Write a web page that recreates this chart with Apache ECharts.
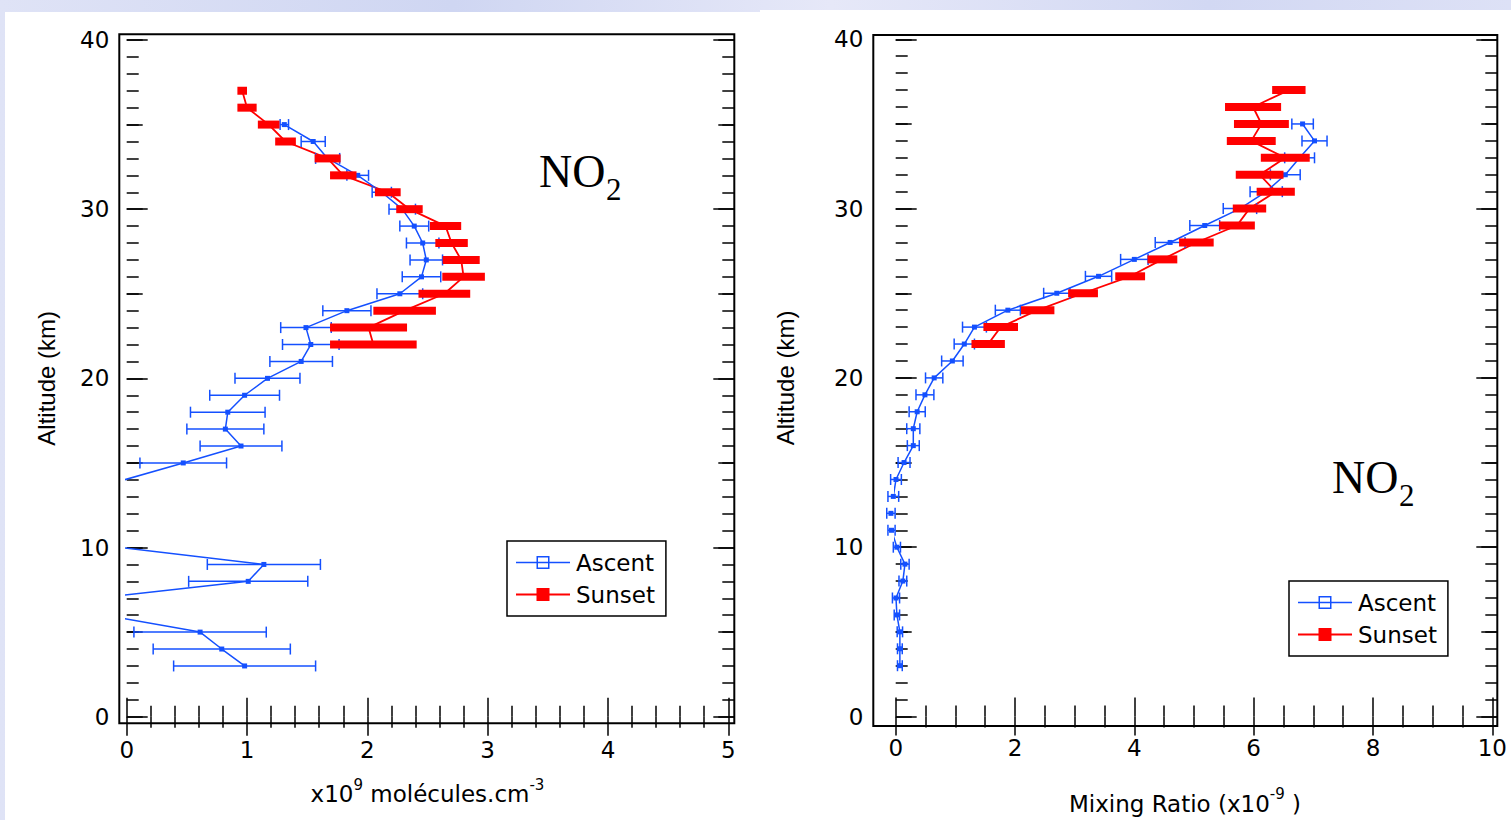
<!DOCTYPE html>
<html><head><meta charset="utf-8">
<script src="https://cdn.jsdelivr.net/npm/echarts@6/dist/echarts.min.js"></script>
<style>
html,body{margin:0;padding:0;}
body{width:1511px;height:820px;overflow:hidden;position:relative;
background:linear-gradient(90deg,#dfe3f6 0%,#cfd6f2 30%,#e6e8f8 55%,#d2d8f3 80%,#dde1f6 100%);}
.panel{position:absolute;background:#fff;}
#chart{position:absolute;left:0;top:0;width:1511px;height:820px;}
</style></head><body>
<div class="panel" style="left:5px;top:12px;width:755px;height:808px"></div>
<div class="panel" style="left:760px;top:10px;width:751px;height:810px"></div>
<div id="chart"></div>
<script>
// ---------- data ----------
const ascentAlt = [3,4,5,6,7,8,9,10,11,12,13,14,15,16,17,18,19,20,21,22,23,24,25,26,27,28,29,30,31,32,33,34,35];
const sunsetAlt = [22,23,24,25,26,27,28,29,30,31,32,33,34,35,36,37];

// Left panel: number density (x10^9 molecules/cm3)
const leftAscentVal = [0.98,0.79,0.61,-0.18,-0.25,1.01,1.14,-0.05,null,null,null,-0.02,0.47,0.95,0.82,0.84,0.98,1.17,1.45,1.53,1.49,1.83,2.27,2.45,2.49,2.46,2.39,2.29,2.12,1.92,1.67,1.55,1.31];
const leftAscentErr = [0.59,0.57,0.55,null,null,0.495,0.47,null,null,null,null,null,0.36,0.34,0.32,0.31,0.29,0.27,0.26,0.235,0.21,0.2,0.19,0.16,0.135,0.135,0.12,0.11,0.08,0.09,0.1,0.1,0.035];
const leftSunsetVal = [2.05,2.01,2.31,2.64,2.80,2.78,2.70,2.65,2.35,2.17,1.80,1.67,1.32,1.18,1.00,0.96];
const leftSunsetErr = [0.36,0.32,0.26,0.215,0.177,0.154,0.135,0.13,0.11,0.107,0.11,0.108,0.086,0.09,0.08,0.04];

// Right panel: mixing ratio (x10^-9)
const rightAscentVal = [0.07,0.07,0.07,0.02,0.005,0.12,0.155,0.02,-0.07,-0.08,-0.04,0.005,0.14,0.295,0.295,0.36,0.49,0.645,0.95,1.15,1.32,1.88,2.70,3.40,4.00,4.60,5.18,5.77,6.21,6.53,6.77,7.02,6.82];
const rightAscentErr = [0.04,0.04,0.045,0.045,0.06,0.065,0.07,0.06,0.06,0.07,0.09,0.09,0.10,0.10,0.11,0.135,0.15,0.145,0.18,0.17,0.2,0.21,0.22,0.22,0.23,0.25,0.25,0.28,0.27,0.25,0.25,0.21,0.18];
const rightSunsetVal = [1.55,1.76,2.38,3.14,3.93,4.47,5.04,5.72,5.93,6.37,6.10,6.53,5.96,6.13,5.99,6.59];
const rightSunsetErr = [0.28,0.29,0.28,0.25,0.25,0.25,0.29,0.30,0.28,0.32,0.40,0.41,0.41,0.46,0.47,0.28];

const leftXTicks = [0,1,2,3,4,5];
const rightXTicks = [0,2,4,6,8,10];
const altTicks = [0,10,20,30,40];
const seriesNames = ['Ascent','Sunset'];

// ---------- styles ----------
const BLUE = '#1450ff', RED = '#ff0000';
const tickFont = {fontFamily:'DejaVu Sans', fontSize:23, color:'#000'};
const tickLine = {color:'#000', width:1.5};

function xAxis(grid, pos, offset, max, interval, minorSplit, showLabel, margin, extra){
  return Object.assign({type:'value', gridIndex:grid, position:pos, offset:offset, min:0, max:max, interval:interval,
    axisLine:{show:false}, splitLine:{show:false},
    axisTick:{show:true, inside:true, length:19, lineStyle:tickLine},
    minorTick:{show:true, splitNumber:minorSplit, length:11, lineStyle:tickLine},
    axisLabel:Object.assign({show:showLabel, margin:margin}, tickFont)}, extra||{});
}
function yAxis(grid, pos, offset, interval, major, showLabel, extra){
  return Object.assign({type:'value', gridIndex:grid, position:pos, offset:offset, min:0, max:40, interval:interval,
    axisLine:{show:false}, splitLine:{show:false},
    axisTick:{show:true, inside:true, length: major ? 21 : 16, lineStyle:tickLine},
    minorTick:{show: major, splitNumber:10, length:12, lineStyle:tickLine},
    axisLabel:Object.assign({show:showLabel, margin:10}, tickFont)}, extra||{});
}

function pairs(vals, alts){ return alts.map((a,i)=> [vals[i]==null ? NaN : vals[i], a]); }
function errData(vals, errs, alts){
  const d=[]; alts.forEach((a,i)=>{ if(vals[i]!=null && errs[i]!=null) d.push([vals[i]-errs[i], vals[i]+errs[i], a]); }); return d;
}
function blueErr(params, api){
  const lo = api.coord([api.value(0), api.value(2)]);
  const hi = api.coord([api.value(1), api.value(2)]);
  const st = {stroke:BLUE, lineWidth:1.5};
  return {type:'group', children:[
    {type:'line', shape:{x1:lo[0],y1:lo[1],x2:hi[0],y2:hi[1]}, style:st},
    {type:'line', shape:{x1:lo[0],y1:lo[1]-5.5,x2:lo[0],y2:lo[1]+5.5}, style:st},
    {type:'line', shape:{x1:hi[0],y1:hi[1]-5.5,x2:hi[0],y2:hi[1]+5.5}, style:st}
  ]};
}
function redBar(params, api){
  const lo = api.coord([api.value(0), api.value(2)]);
  const hi = api.coord([api.value(1), api.value(2)]);
  return {type:'rect', shape:{x:lo[0], y:lo[1]-4, width:hi[0]-lo[0], height:8}, style:{fill:RED}};
}

function panelSeries(xi, yi, aVal, aErr, sVal, sErr, clip){
  return [
    {name:seriesNames[1], type:'line', xAxisIndex:xi, yAxisIndex:yi, data:pairs(sVal, sunsetAlt), clip:clip,
     symbol:'rect', symbolSize:6, itemStyle:{color:RED, borderWidth:0}, lineStyle:{color:RED, width:1.8}, connectNulls:false, z:2},
    {name:seriesNames[0], type:'line', xAxisIndex:xi, yAxisIndex:yi, data:pairs(aVal, ascentAlt), clip:clip,
     symbol:'rect', symbolSize:5, itemStyle:{color:BLUE, borderWidth:0}, lineStyle:{color:BLUE, width:1.5}, connectNulls:false, z:3},
    {name:'Ascent error', type:'custom', xAxisIndex:xi, yAxisIndex:yi, data:errData(aVal, aErr, ascentAlt),
     encode:{x:[0,1], y:2}, renderItem:blueErr, z:4},
    {name:'Sunset error', type:'custom', xAxisIndex:xi, yAxisIndex:yi, data:errData(sVal, sErr, sunsetAlt),
     encode:{x:[0,1], y:2}, renderItem:redBar, z:5}
  ];
}

const ascIcon = 'path://M0 5.75H54V7.25H0Z M20.5 0H33.5V13H20.5Z M22 1.5V11.5H32V1.5Z';
const sunIcon = 'path://M0 5.5H54V7.5H0Z M20.5 0H33.5V13H20.5Z';
function legendAt(left, top){
  return {left:left, top:top, orient:'vertical', selectedMode:false,
    data:[{name:seriesNames[0], icon:ascIcon},{name:seriesNames[1], icon:sunIcon}],
    itemWidth:54, itemHeight:13, itemGap:9, padding:[10,11,10,9],
    borderColor:'#000', borderWidth:1.5, backgroundColor:'#fff',
    itemStyle:{borderWidth:0},
    textStyle:{fontFamily:'DejaVu Sans', fontSize:23, color:'#000', padding:[0,0,0,1]}};
}
const serif = {fontFamily:'Liberation Serif', fontWeight:'normal', color:'#000'};
function no2Titles(left, top){
  return [
    {text:'NO', left:left, top:top, padding:0, textStyle:Object.assign({fontSize:46, lineHeight:50}, serif)},
    {text:'2', left:left+67, top:top+26, padding:0, textStyle:Object.assign({fontSize:31, lineHeight:34}, serif)}
  ];
}
const nameRich = {
  a:{fontFamily:'DejaVu Sans', fontSize:23, lineHeight:34, color:'#000'},
  s:{fontFamily:'DejaVu Sans', fontSize:15, lineHeight:15, verticalAlign:'top', color:'#000'}
};
const altName = {fontFamily:'Liberation Sans', fontSize:24, color:'#000'};

const chart = echarts.init(document.getElementById('chart'), null, {renderer:'svg'});
chart.setOption({
  animation:false,
  backgroundColor:'transparent',
  title:[].concat(no2Titles(539,146), no2Titles(1332,452)),
  legend:[legendAt(507,541), legendAt(1289,581)],
  grid:[
    {left:126.7, top:40, width:601.6, height:676.7},
    {left:895.7, top:39.3, width:596.6, height:680.7}
  ],
  xAxis:[
    xAxis(0,'bottom',6.6,5,1,5,true,15,{name:'{a|x10}{s|9}{a| molécules.cm}{s|-3}', nameLocation:'middle', nameGap:54,
      nameTextStyle:{rich:nameRich}}),
    xAxis(0,'top',5.7,5,1,5,false,15),
    xAxis(1,'bottom',6,10,2,4,true,14,{name:'{a|Mixing Ratio (x10}{s|-9}{a| )}', nameLocation:'middle', nameGap:64,
      nameTextStyle:{rich:nameRich, padding:[0,18,0,0]}}),
    xAxis(1,'top',4.3,10,2,4,false,14)
  ],
  yAxis:[
    yAxis(0,'left',7.4,10,true,true,{name:'Altitude (km)', nameLocation:'middle', nameGap:61, nameRotate:90, nameTextStyle:altName}),
    yAxis(0,'left',7.4,5,false,false),
    yAxis(0,'right',6,10,true,false),
    yAxis(0,'right',6,5,false,false),
    yAxis(1,'left',22.4,10,true,true,{name:'Altitude (km)', nameLocation:'middle', nameGap:76, nameRotate:90, nameTextStyle:altName}),
    yAxis(1,'left',22.4,5,false,false),
    yAxis(1,'right',5,10,true,false),
    yAxis(1,'right',5,5,false,false)
  ],
  graphic:[
    {type:'rect', shape:{x:119.3, y:34.3, width:615, height:689}, style:{fill:'none', stroke:'#000', lineWidth:2}, z:10, silent:true},
    {type:'rect', shape:{x:873.3, y:35, width:624, height:691}, style:{fill:'none', stroke:'#000', lineWidth:2}, z:10, silent:true}
  ],
  series:[].concat(
    panelSeries(0,0,leftAscentVal,leftAscentErr,leftSunsetVal,leftSunsetErr,true),
    panelSeries(2,4,rightAscentVal,rightAscentErr,rightSunsetVal,rightSunsetErr,false)
  )
});
</script></body></html>
